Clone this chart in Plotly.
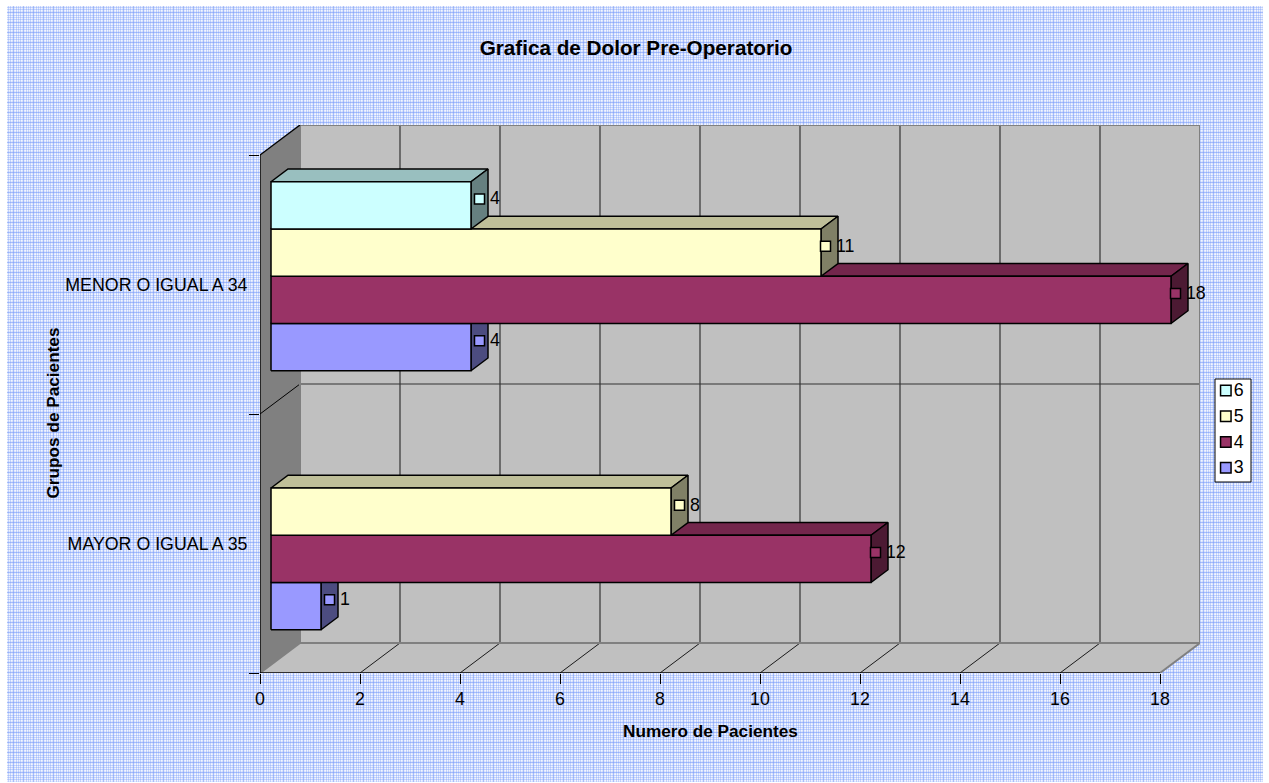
import base64
import struct
import zlib

import numpy as np
import plotly.graph_objects as go

# Chart data
categories = ["MAYOR O IGUAL A 35", "MENOR O IGUAL A 34"]
series_names = ["3", "4", "5", "6"]
series_values = {
    "3": [1, 4],
    "4": [12, 18],
    "5": [8, 11],
    "6": [None, 4],
}
series_colors = {"3": "#9999FF", "4": "#993366", "5": "#FFFFCC", "6": "#CCFFFF"}
x_ticks = [0, 2, 4, 6, 8, 10, 12, 14, 16, 18]

FONT = "Liberation Sans, Arial, sans-serif"
TEXT_SIZE = 17.8
WIDTH, HEIGHT = 1269, 783

# Oblique projection: a unit of depth moves a point right and up the axes
X_UNIT_PX = 50.0
Y_UNIT_PX = 259.0
DEPTH_DX = 40.0 / X_UNIT_PX
DEPTH_DY = 30.0 / Y_UNIT_PX
BAR_NEAR, BAR_FAR = 0.275, 0.70
BAR_HEIGHT = 0.1824
GROUP_GAP = (1 - BAR_HEIGHT * 4) / 2
X_MAX = 18.0

# A marker and its label are centred as one group, so wider labels push the marker left
MARKER_SHIFT_PER_EXTRA_DIGIT = 4.0 / X_UNIT_PX
# Labels keep clear of the marker through an unseen, larger spacer marker
LABEL_SPACER_SIZE = 15
KEY_SPACER_SIZE = 11
LABEL_DROP = 1.0 / Y_UNIT_PX

PLOT_L, PLOT_T, PLOT_B = 260, 125, 673
PLOT_R = PLOT_L + (X_MAX + DEPTH_DX) * X_UNIT_PX
PAPER_W = WIDTH - PLOT_L
PAPER_H = PLOT_B - PLOT_T

# Key box, in pixels of the page
KEY_L, KEY_R, KEY_T, KEY_B = 1215, 1251, 379, 482
KEY_ROW_PX = (KEY_B - KEY_T) / len(series_names)


def proj(v, c, d):
    return v + d * DEPTH_DX, c + d * DEPTH_DY


def shade(hex_color, k):
    r, g, b = [int(hex_color[i:i + 2], 16) for i in (1, 3, 5)]
    return f"rgb({round(r * k)},{round(g * k)},{round(b * k)})"


def polygons(polys):
    xs, ys = [], []
    for poly in polys:
        pts = [proj(*p) for p in poly]
        pts.append(pts[0])
        xs += [p[0] for p in pts] + [None]
        ys += [p[1] for p in pts] + [None]
    return xs, ys


def segments(segs):
    xs, ys = [], []
    for a, b in segs:
        pa, pb = proj(*a), proj(*b)
        xs += [pa[0], pb[0], None]
        ys += [pa[1], pb[1], None]
    return xs, ys


def add_fill(fig, polys, fill, line_color=None, width=0):
    xs, ys = polygons(polys)
    fig.add_trace(go.Scatter(
        x=xs, y=ys, mode="lines", fill="toself", fillcolor=fill,
        line=dict(color=line_color or fill, width=width),
        showlegend=False, hoverinfo="skip"))


def add_lines(fig, segs, color, width):
    xs, ys = segments(segs)
    fig.add_trace(go.Scatter(
        x=xs, y=ys, mode="lines", line=dict(color=color, width=width),
        showlegend=False, hoverinfo="skip"))


def woven_png():
    """Blue-on-white woven chart-area fill, as an in-page PNG."""
    weights = np.array([0.05, 0.38, 0.07, 0.40, 0.05, 0.18, 0.62, 0.14, 0.04, 0.40])
    w, h = 1256, 776
    wx = weights[np.arange(w) % len(weights)]
    wy = weights[np.arange(h) % len(weights)]
    cover = 1 - np.outer(1 - wy, 1 - wx)
    ink = np.array([120, 155, 250])
    rgb = (255 - cover[..., None] * (255 - ink)).astype(np.uint8)
    raw = b"".join(b"\x00" + rgb[i].tobytes() for i in range(h))

    def chunk(tag, data):
        body = tag + data
        return struct.pack(">I", len(data)) + body + struct.pack(">I", zlib.crc32(body))

    png = b"\x89PNG\r\n\x1a\n" + chunk(b"IHDR", struct.pack(">IIBBBBB", w, h, 8, 2, 0, 0, 0)) \
        + chunk(b"IDAT", zlib.compress(raw)) + chunk(b"IEND", b"")
    return "data:image/png;base64," + base64.b64encode(png).decode(), w, h


fig = go.Figure()
n_cat = len(categories)

# Walls and floor of the 3D box
add_fill(fig, [[(0, 0, 1), (X_MAX, 0, 1), (X_MAX, n_cat, 1), (0, n_cat, 1)]], "#C0C0C0")
add_fill(fig, [[(0, 0, 0), (0, 0, 1), (0, n_cat, 1), (0, n_cat, 0)]], "#808080")
add_fill(fig, [[(0, 0, 0), (X_MAX, 0, 0), (X_MAX, 0, 1), (0, 0, 1)]], "#C0C0C0")

# Gridlines: along the floor and up the back wall
inner_ticks = [t for t in x_ticks if 0 < t < X_MAX]
add_lines(fig, [((t, 0, 0), (t, 0, 1)) for t in inner_ticks], "#1a1a1a", 1)
add_lines(fig, [((t, 0, 1), (t, n_cat, 1)) for t in inner_ticks], "#333333", 1.2)
add_lines(fig, [((0, 1, 0), (0, 1, 1))], "#000000", 1)
add_lines(fig, [((0, 1, 1), (X_MAX, 1, 1))], "#333333", 1.2)

# Box edges
add_lines(fig, [((0, 0, 1), (X_MAX, 0, 1)), ((0, n_cat, 1), (X_MAX, n_cat, 1)),
                ((X_MAX, 0, 1), (X_MAX, n_cat, 1)), ((0, 0, 1), (0, n_cat, 1)),
                ((X_MAX, 0, 0), (X_MAX, 0, 1)), ((0, 0, 0), (0, 0, 1))], "#808080", 2)
add_lines(fig, [((0, n_cat, 0), (0, n_cat, 1)), ((0, 0, 0), (0, n_cat, 0)),
                ((0, 0, 0), (X_MAX, 0, 0))], "#000000", 1.4)

# Bars, bottom of each group first so that upper bars overlap the tops below
for s_idx, name in enumerate(series_names):
    base = series_colors[name]
    front, top, side = [], [], []
    for c_idx, v in enumerate(series_values[name]):
        if v is None:
            continue
        lo = c_idx + GROUP_GAP + s_idx * BAR_HEIGHT
        hi = lo + BAR_HEIGHT
        front.append([(0, lo, BAR_NEAR), (v, lo, BAR_NEAR), (v, hi, BAR_NEAR), (0, hi, BAR_NEAR)])
        top.append([(0, hi, BAR_NEAR), (v, hi, BAR_NEAR), (v, hi, BAR_FAR), (0, hi, BAR_FAR)])
        side.append([(v, lo, BAR_NEAR), (v, lo, BAR_FAR), (v, hi, BAR_FAR), (v, hi, BAR_NEAR)])
    add_fill(fig, top, shade(base, 0.75), "#000000", 1.5)
    add_fill(fig, side, shade(base, 0.5), "#000000", 1.5)
    add_fill(fig, front, base, "#000000", 1.5)

# Value markers and labels sit on the end face of each bar
for s_idx, name in enumerate(series_names):
    mx, my, labels = [], [], []
    for c_idx, v in enumerate(series_values[name]):
        if v is None:
            continue
        label = str(v)
        mid = c_idx + GROUP_GAP + (s_idx + 0.5) * BAR_HEIGHT
        px, py = proj(v, mid, (BAR_NEAR + BAR_FAR) / 2)
        mx.append(px - MARKER_SHIFT_PER_EXTRA_DIGIT * (len(label) - 1))
        my.append(py)
        labels.append(label)
    fig.add_trace(go.Scatter(
        x=mx, y=my, mode="markers", name=name, showlegend=False,
        marker=dict(symbol="square", size=10, color=series_colors[name],
                    line=dict(color="#000000", width=1.5)),
        hovertemplate="%{x}<extra></extra>"))
    fig.add_trace(go.Scatter(
        x=mx, y=[y - LABEL_DROP for y in my], mode="markers+text", text=labels,
        textposition="middle right", cliponaxis=False, showlegend=False, hoverinfo="skip",
        textfont=dict(family=FONT, size=TEXT_SIZE, color="#000000"),
        marker=dict(symbol="square", size=LABEL_SPACER_SIZE, color="rgba(0,0,0,0)")))

# Key on its own small axes to the right of the box
key_rows = list(range(len(series_names)))
fig.add_trace(go.Scatter(
    x=[0.3] * len(series_names), y=key_rows, xaxis="x2", yaxis="y2",
    mode="markers",
    marker=dict(symbol="square", size=10.5, color=[series_colors[n] for n in series_names],
                line=dict(color="#000000", width=1.5)),
    showlegend=False, hoverinfo="skip", cliponaxis=False))
fig.add_trace(go.Scatter(
    x=[0.3] * len(series_names), y=[r - 1.2 / KEY_ROW_PX for r in key_rows],
    xaxis="x2", yaxis="y2", mode="markers+text", text=series_names,
    textposition="middle right", cliponaxis=False, showlegend=False, hoverinfo="skip",
    textfont=dict(family=FONT, size=TEXT_SIZE, color="#000000"),
    marker=dict(symbol="square", size=KEY_SPACER_SIZE, color="rgba(0,0,0,0)")))

src, img_w, img_h = woven_png()

fig.update_layout(
    width=WIDTH, height=HEIGHT, autosize=False, showlegend=False,
    margin=dict(l=PLOT_L, r=0, t=PLOT_T, b=HEIGHT - PLOT_B, autoexpand=False),
    paper_bgcolor="#FFFFFF", plot_bgcolor="rgba(0,0,0,0)",
    font=dict(family=FONT, size=TEXT_SIZE, color="#000000"),
    title=dict(text="<b>Grafica de Dolor Pre-Operatorio</b>",
               font=dict(family=FONT, size=20.7, color="#000000"),
               x=636 / WIDTH, xanchor="center", xref="container",
               y=1 - 48 / HEIGHT, yanchor="middle", yref="container"),
    xaxis=dict(domain=[0, (PLOT_R - PLOT_L) / PAPER_W], range=[0, X_MAX + DEPTH_DX],
               tickvals=x_ticks, ticks="outside", ticklen=10,
               tickwidth=1, tickcolor="#000000", showgrid=False, zeroline=False, showline=False,
               tickfont=dict(family=FONT, size=TEXT_SIZE), automargin=False),
    yaxis=dict(range=[0, n_cat + DEPTH_DY], tickvals=[i + 0.5 for i in range(n_cat)],
               ticktext=categories, ticks="outside", ticklen=8, tickcolor="rgba(0,0,0,0)",
               minor=dict(tickmode="array", tickvals=list(range(n_cat + 1)), ticks="outside",
                          ticklen=10, tickwidth=1, tickcolor="#000000", showgrid=False),
               showgrid=False, zeroline=False, showline=False,
               tickfont=dict(family=FONT, size=TEXT_SIZE), automargin=False),
    xaxis2=dict(domain=[(KEY_L - PLOT_L) / PAPER_W, (KEY_R - PLOT_L) / PAPER_W], range=[0, 1],
                anchor="y2", visible=False),
    yaxis2=dict(domain=[(PLOT_B - KEY_B) / PAPER_H, (PLOT_B - KEY_T) / PAPER_H],
                range=[-0.55, len(series_names) - 0.55], anchor="x2", visible=False),
    shapes=[dict(type="rect", xref="x2 domain", yref="y2 domain", x0=0, x1=1, y0=0, y1=1,
                 fillcolor="#FFFFFF", line=dict(color="#000000", width=1), layer="below")],
    images=[dict(source=src, xref="paper", yref="paper", layer="below",
                 x=(7 - PLOT_L) / PAPER_W, y=1 + (PLOT_T - 6) / PAPER_H,
                 sizex=img_w / PAPER_W, sizey=img_h / PAPER_H,
                 xanchor="left", yanchor="top", sizing="stretch")],
    annotations=[
        dict(text="<b>Numero de Pacientes</b>", xref="paper", yref="paper", showarrow=False,
             x=(710 - PLOT_L) / PAPER_W, y=(PLOT_B - 731) / PAPER_H,
             xanchor="center", yanchor="middle", font=dict(family=FONT, size=17.2)),
        dict(text="<b>Grupos de Pacientes</b>", xref="paper", yref="paper", showarrow=False,
             x=(52 - PLOT_L) / PAPER_W, y=(PLOT_B - 413.5) / PAPER_H, textangle=-90,
             xanchor="center", yanchor="middle", font=dict(family=FONT, size=17.2)),
    ],
)

fig.write_html("out.html")
